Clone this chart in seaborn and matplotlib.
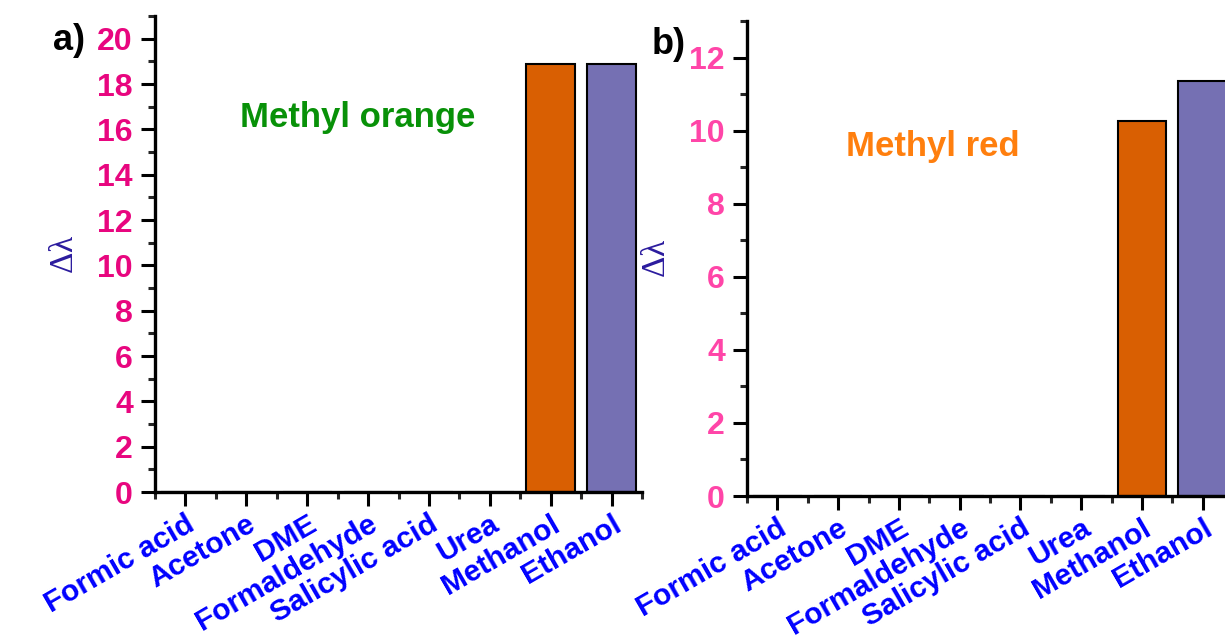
import pandas as pd
import matplotlib.pyplot as plt
import seaborn as sns
from matplotlib.ticker import MultipleLocator

# data
solvents = ['Formic acid', 'Acetone', 'DME', 'Formaldehyde',
            'Salicylic acid', 'Urea', 'Methanol', 'Ethanol']
shift_orange = [0, 0, 0, 0, 0, 0, 18.9, 18.9]
shift_red = [0, 0, 0, 0, 0, 0, 10.25, 11.35]
bar_colors = ['#d95f02'] * 7 + ['#7570b3']

sns.set_style('white')
plt.rcParams['font.family'] = ['Liberation Sans', 'DejaVu Sans']
plt.rcParams['mathtext.fontset'] = 'custom'
plt.rcParams['mathtext.rm'] = 'Liberation Serif'
plt.rcParams['mathtext.it'] = 'Liberation Serif'

W, H = 1225, 643
fig = plt.figure(figsize=(W / 100, H / 100), dpi=100)


def px_axes(x0, y0, x1, y1):
    # pixel box (left, top, right, bottom) -> figure axes
    return fig.add_axes([x0 / W, 1 - y1 / H, (x1 - x0) / W, (y1 - y0) / H])


def draw_panel(ax, values, ymax, tick_color, title, title_color, title_xy, tag, tag_xy):
    df = pd.DataFrame({'solvent': solvents, 'shift': values})
    palette = dict(zip(solvents, bar_colors))
    sns.barplot(data=df, x='solvent', y='shift', hue='solvent', palette=palette,
                width=0.8, edgecolor='black', linewidth=1.5, legend=False,
                saturation=1, ax=ax)
    ax.set_xlim(-0.5, 7.5)
    ax.set_ylim(0, ymax)
    ax.yaxis.set_major_locator(MultipleLocator(2))
    ax.yaxis.set_minor_locator(MultipleLocator(1))
    ax.set_xticks(range(len(solvents)))
    ax.set_xticks([i + 0.5 for i in range(-1, 8)], minor=True)
    for s in ['top', 'right']:
        ax.spines[s].set_visible(False)
    for s in ['left', 'bottom']:
        ax.spines[s].set_linewidth(2.4)
        ax.spines[s].set_color('black')
    ax.tick_params(which='major', direction='out', length=10, width=2.2,
                   left=True, bottom=True, colors='black', pad=6)
    ax.tick_params(which='minor', direction='out', length=5, width=2.2,
                   left=True, bottom=True)
    ax.tick_params(axis='x', which='major', pad=3)
    ax.set_xticklabels(solvents, rotation=30, ha='right', rotation_mode='anchor',
                       fontsize=21.5, fontweight='bold', color='#0000ff')
    for lab in ax.get_yticklabels():
        lab.set_fontsize(23)
        lab.set_fontweight('bold')
        lab.set_color(tick_color)
    ax.set_xlabel('')
    ax.set_ylabel(r'$\Delta\lambda$', fontsize=24, color='#2b1b9e', labelpad=12)
    fig.text(title_xy[0] / W, 1 - title_xy[1] / H, title, fontsize=25,
             fontweight='bold', color=title_color, ha='center', va='center')
    fig.text(tag_xy[0] / W, 1 - tag_xy[1] / H, tag, fontsize=26,
             fontweight='bold', color='black', ha='center', va='center')


ax1 = px_axes(155, 16, 642, 492)
draw_panel(ax1, shift_orange, 21, '#e8067f', 'Methyl orange', '#089108',
           (358, 117), 'a)', (69, 40))

ax2 = px_axes(747, 21, 1233, 496)
draw_panel(ax2, shift_red, 13, '#ff45a8', 'Methyl red', '#ff7f0e',
           (933, 147), 'b)', (669, 45))

fig.savefig('out.png', dpi=100)
